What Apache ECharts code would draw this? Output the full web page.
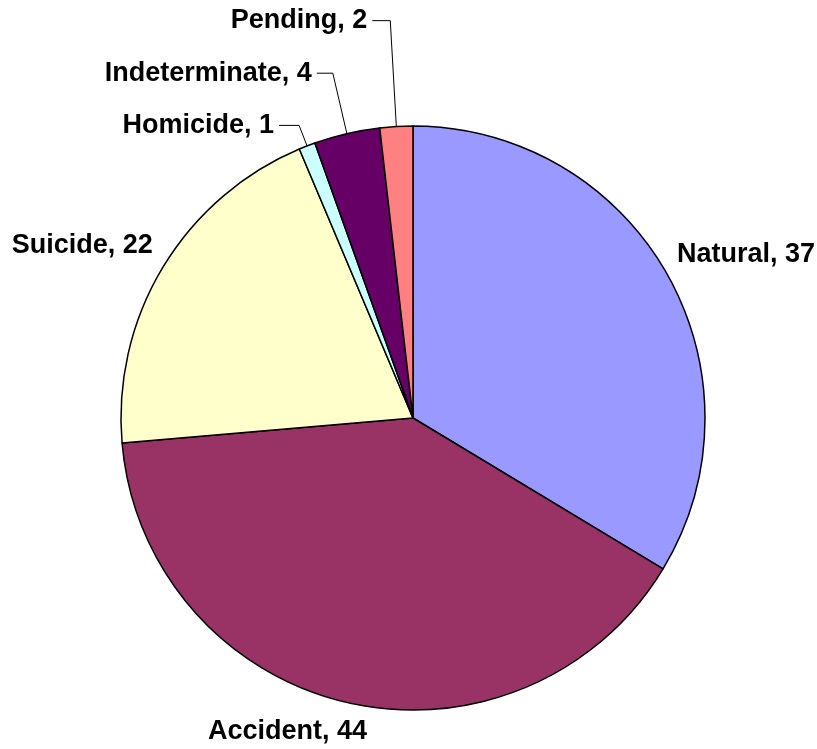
<!DOCTYPE html>
<html>
<head>
<meta charset="utf-8">
<script src="https://cdn.jsdelivr.net/npm/echarts@6/dist/echarts.min.js"></script>
<style>
html,body{margin:0;padding:0;background:#fff;}
#chart{width:817px;height:749px;}
</style>
</head>
<body>
<div id="chart"></div>
<script>
var categories = ['Natural', 'Accident', 'Suicide', 'Homicide', 'Indeterminate', 'Pending'];
var values = [37, 44, 22, 1, 4, 2];
var colors = ['#9999FF', '#993366', '#FFFFCC', '#CCFFFF', '#660066', '#FF8080'];

// label line styling per slice (length, length2, visible)
var lineLen = [41, 30, 41, 22, 62, 106];
var lineLen2 = [-31, -32, -30, 20, 16, 18];
var lineShow = [false, false, false, true, true, true];

var data = categories.map(function (c, i) {
  return {
    name: c,
    value: values[i],
    itemStyle: { color: colors[i] },
    labelLine: { show: lineShow[i], length: lineLen[i], length2: lineLen2[i] }
  };
});

var chart = echarts.init(document.getElementById('chart'), null, { renderer: 'canvas' });
chart.setOption({
  backgroundColor: '#ffffff',
  animation: false,
  series: [{
    type: 'pie',
    center: [413, 418],
    radius: 292,
    startAngle: 90,
    clockwise: true,
    avoidLabelOverlap: false,
    itemStyle: { borderColor: '#000', borderWidth: 1.5 },
    label: {
      show: true,
      position: 'outside',
      formatter: '{b}, {c}',
      color: '#000',
      fontFamily: '"Liberation Sans", Arial, sans-serif',
      fontWeight: 'bold',
      fontSize: 27,
      bleedMargin: 0,
      distanceToLabelLine: 5
    },
    labelLine: {
      lineStyle: { color: '#000', width: 1 },
      minTurnAngle: 0,
      maxSurfaceAngle: 180
    },
    emphasis: { disabled: true },
    data: data
  }]
});
</script>
</body>
</html>
